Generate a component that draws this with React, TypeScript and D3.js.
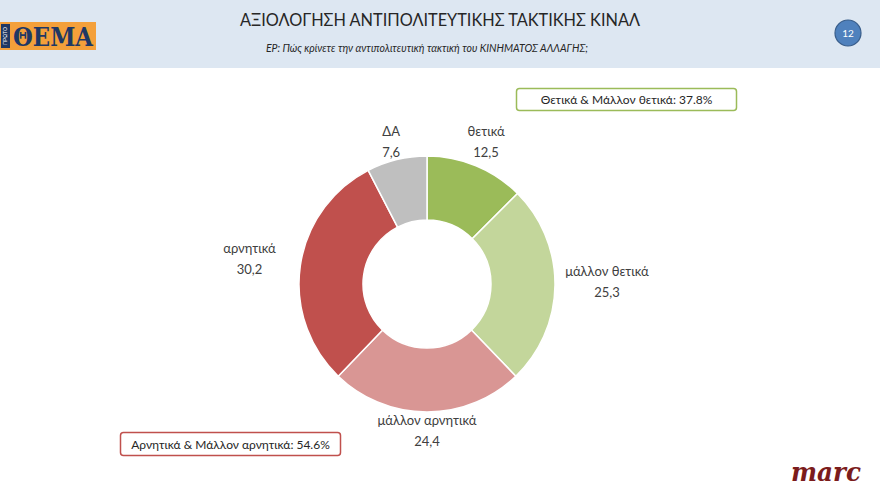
import React from "react";
import * as d3 from "d3";

const categories = ["θετικά", "μάλλον θετικά", "μάλλον αρνητικά", "αρνητικά", "ΔΑ"];
const values = [12.5, 25.3, 24.4, 30.2, 7.6];
const colors = ["#9bbb59", "#c3d69b", "#d99694", "#c0504d", "#bfbfbf"];
const title = "ΑΞΙΟΛΟΓΗΣΗ ΑΝΤΙΠΟΛΙΤΕΥΤΙΚΗΣ ΤΑΚΤΙΚΗΣ ΚΙΝΑΛ";
const subtitle = "ΕΡ: Πώς κρίνετε την αντιπολιτευτική τακτική του ΚΙΝΗΜΑΤΟΣ ΑΛΛΑΓΗΣ;";
const positiveSummary = "Θετικά & Μάλλον θετικά: 37.8%";
const negativeSummary = "Αρνητικά & Μάλλον αρνητικά: 54.6%";

const W = 880;
const H = 495;
const cx = 427;
const cy = 284;
const outerR = 128;
const innerR = 64;
const labelR = 150;
const font = "Lato, 'Open Sans', sans-serif";

export default function App() {
  const pie = d3.pie<number>().sort(null).value((d) => d)(values);
  const arc = d3.arc<d3.PieArcDatum<number>>().innerRadius(innerR).outerRadius(outerR);
  const fmt = (v: number) => v.toFixed(1).replace(".", ",");

  return (
    <svg width={W} height={H} style={{ position: "absolute", left: 0, top: 0, background: "#fff" }}>
      <rect x={0} y={0} width={W} height={68} fill="#dde7f2" />
      {/* logo */}
      <rect x={0} y={22} width={96} height={28} fill="#f4a03a" />
      <rect x={1} y={24} width={9} height={24} fill="#1f3864" />
      <text x={5.5} y={36} fill="#fff" fontSize={5} fontFamily="sans-serif" textAnchor="middle"
        transform="rotate(-90 5.5 36)" dominantBaseline="middle">ΠΡΩΤΟ</text>
      <text x={53} y={46} fill="#1f3864" fontSize={26} fontWeight="bold" fontFamily="'DejaVu Serif', serif"
        textAnchor="middle" textLength={80} lengthAdjust="spacingAndGlyphs">ΘΕΜΑ</text>
      {/* titles */}
      <text x={440} y={26} textAnchor="middle" fontSize={17} fill="#262626" fontFamily={font}
        textLength={400} lengthAdjust="spacingAndGlyphs">{title}</text>
      <text x={427} y={52} textAnchor="middle" fontSize={10.5} fontStyle="italic" fill="#262626" fontFamily={font}>{subtitle}</text>
      {/* page number */}
      <circle cx={848} cy={33} r={13} fill="#4f81bd" stroke="#385d8a" strokeWidth={1.2} />
      <text x={848} y={37} textAnchor="middle" fontSize={10} fill="#fff" fontFamily={font}>12</text>
      {/* donut */}
      <g transform={`translate(${cx},${cy})`}>
        {pie.map((d, i) => (
          <path key={i} d={arc(d) || ""} fill={colors[i]} stroke="#fff" strokeWidth={1.5} />
        ))}
        {pie.map((d, i) => {
          const a = (d.startAngle + d.endAngle) / 2;
          const s = Math.sin(a);
          const x = labelR * s + 30 * s * s * s;
          const y = Math.max(-labelR * Math.cos(a) - 4, -143);
          return (
            <g key={"l" + i} fontFamily={font} fontSize={13} fill="#404040" textAnchor="middle">
              <text x={x} y={y - 5}>{categories[i]}</text>
              <text x={x} y={y + 16}>{fmt(values[i])}</text>
            </g>
          );
        })}
      </g>
      {/* summary boxes */}
      <rect x={516.5} y={88.5} width={220} height={22} rx={3} fill="#fff" stroke="#9bbb59" strokeWidth={1.5} />
      <text x={626.5} y={104} textAnchor="middle" fontSize={12} fill="#262626" fontFamily={font}>{positiveSummary}</text>
      <rect x={120.5} y={432.5} width={220} height={23} rx={3} fill="#fff" stroke="#c0504d" strokeWidth={1.5} />
      <text x={230.5} y={448.5} textAnchor="middle" fontSize={12} fill="#262626" fontFamily={font}>{negativeSummary}</text>
      {/* marc logo */}
      <text x={826} y={481} textAnchor="middle" fontSize={26} fontWeight="bold" fontStyle="italic"
        fill="#7b1c1c" fontFamily="'DejaVu Serif', 'Liberation Serif', serif" textLength={70} lengthAdjust="spacingAndGlyphs">marc</text>
    </svg>
  );
}
